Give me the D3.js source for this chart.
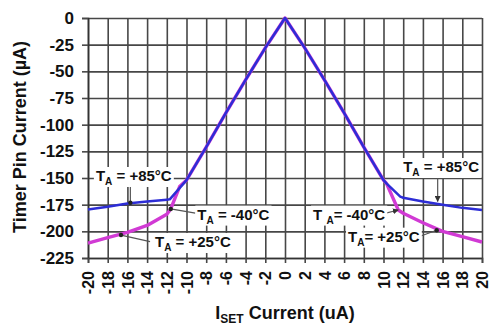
<!DOCTYPE html>
<html>
<head>
<meta charset="utf-8">
<script src="https://cdn.jsdelivr.net/npm/d3@7"></script>
<style>
  body { margin: 0; background: #fff; }
  svg { font-family: "Liberation Sans", Arial, sans-serif; font-weight: bold; }
</style>
</head>
<body>
<div class="chart"></div>
<script>
// I_SET current (uA) vs timer pin current (uA)
let iset85 = [-20, -18, -16, -14, -12, -11.7, -10, -8, -6, -4, -2, 0, 2, 4, 6, 8, 10, 10.3, 11.7, 12, 14, 16, 18, 20];
let pin85 = [-179.5, -177, -174, -172, -170.3, -170, -152, -121, -89, -58, -28, 0, -28, -58, -89, -121, -152, -155, -167.5, -168.5, -172, -175, -178, -180];

let iset25 = [-20, -18, -16, -14, -12, -11.6, -10.7, -10, -8, -6, -4, -2, 0, 2, 4, 6, 8, 10, 10.3, 11.5, 12, 14, 16, 18, 20];
let pin25 = [-211, -206, -201, -194.5, -184, -179, -158, -152, -121, -89, -58, -28, 0, -28, -58, -89, -121, -152, -155, -180, -183, -192, -200, -205, -210];

let xTicks = d3.range(-20, 21, 2);
let yTicks = d3.range(-225, 1, 25);

// annotations, in data units
let notes = [
  { pre: "T", sub: "A", post: " = +85°C", x: -19.2, y: -152.8, from: [-15.7, -155.6], to: [-15.7, -173.2], end: "dot" },
  { pre: "T", sub: "A", post: " = -40°C", x: -8.9, y: -189, from: [-9.1, -183], to: [-11.6, -179], end: "dot" },
  { pre: "T", sub: "A", post: " = +25°C", x: -13.2, y: -214.7, from: [-13.7, -209.7], to: [-16.65, -203.5], end: "dot" },
  { pre: "T", sub: "A", post: " = +85°C", x: 12, y: -144.4, from: [15.5, -150.5], to: [15.5, -172], end: "arrow" },
  { pre: "T ", sub: "A", post: "= -40°C", x: 2.85, y: -189, from: [9.95, -183.7], to: [11.5, -180], end: "arrow" },
  { pre: "T", sub: "A", post: "= +25°C", x: 6.4, y: -209.7, from: [13.5, -205.3], to: [15.4, -199], end: "dot" }
];

let margin = { top: 18, right: 8, bottom: 68, left: 88 },
  width = 490 - margin.left - margin.right,
  height = 326 - margin.top - margin.bottom;

let root = d3.select(".chart")
  .append("svg")
  .attr("width", width + margin.left + margin.right)
  .attr("height", height + margin.top + margin.bottom);

let svg = root.append("g")
  .attr("transform", "translate(" + margin.left + "," + margin.top + ")");

let x = d3.scaleLinear().domain([-20, 20]).range([0, width]);
let y = d3.scaleLinear().domain([-225, 0]).range([height, 0]);

root.append("defs").append("marker")
  .attr("id", "arr")
  .attr("viewBox", "0 0 10 10")
  .attr("refX", 9).attr("refY", 5)
  .attr("markerWidth", 5).attr("markerHeight", 5)
  .attr("orient", "auto")
  .append("path")
  .attr("d", "M0,0L10,5L0,10z")
  .attr("fill", "#333");

// grid
svg.append("g")
  .attr("class", "grid")
  .attr("transform", "translate(0," + height + ")")
  .call(d3.axisBottom(x).tickValues(xTicks).tickSize(-height).tickFormat(""));
svg.append("g")
  .attr("class", "grid")
  .call(d3.axisLeft(y).tickValues(yTicks).tickSize(-width).tickFormat(""));
svg.selectAll(".grid .domain").remove();
svg.selectAll(".grid line").attr("stroke", "#474747").attr("stroke-width", 1.6);

// axes, plain hyphen for negatives like the original
let fmt = function(d) { return String(d); };
let yAxis = svg.append("g")
  .call(d3.axisLeft(y).tickValues(yTicks).tickSize(6).tickPadding(8).tickFormat(fmt));
let xAxis = svg.append("g")
  .attr("transform", "translate(0," + height + ")")
  .call(d3.axisBottom(x).tickValues(xTicks).tickSize(5).tickPadding(8).tickFormat(fmt));

[xAxis, yAxis].forEach(function(a) {
  a.select(".domain").attr("stroke", "#333").attr("stroke-width", 1.6);
  a.selectAll(".tick line").attr("stroke", "#474747").attr("stroke-width", 1.6);
  a.selectAll("text").attr("fill", "#111").style("font-family", "Liberation Sans, Arial, sans-serif").style("font-weight", "bold");
});
yAxis.selectAll("text").style("font-size", "17px");
xAxis.selectAll("text")
  .style("font-size", "16px")
  .attr("transform", "rotate(-90)")
  .attr("text-anchor", "end")
  .attr("x", -13)
  .attr("y", 0)
  .attr("dy", "0.35em");

// curves
let line = d3.line()
  .x(function(d) { return x(d[0]); })
  .y(function(d) { return y(d[1]); });

svg.append("path")
  .datum(d3.zip(iset25, pin25))
  .attr("fill", "none")
  .attr("stroke", "#d13ad4")
  .attr("stroke-width", 3.4)
  .attr("stroke-linejoin", "round")
  .attr("d", line);

svg.append("path")
  .datum(d3.zip(iset85, pin85))
  .attr("fill", "none")
  .attr("stroke", "#2d2dd6")
  .attr("stroke-width", 2.5)
  .attr("stroke-linejoin", "round")
  .attr("d", line);

// annotations
notes.forEach(function(n) {
  let g = svg.append("g");
  let lead = g.append("line")
    .attr("x1", x(n.from[0])).attr("y1", y(n.from[1]))
    .attr("x2", x(n.to[0])).attr("y2", y(n.to[1]))
    .attr("stroke", "#555")
    .attr("stroke-width", 1.2);
  if (n.end == "arrow") {
    lead.attr("marker-end", "url(#arr)");
  } else {
    g.append("circle")
      .attr("cx", x(n.to[0])).attr("cy", y(n.to[1]))
      .attr("r", 2.2).attr("fill", "#222");
  }
  let t = g.append("text")
    .attr("x", x(n.x)).attr("y", y(n.y))
    .attr("fill", "#111")
    .style("font-size", "15px");
  t.append("tspan").text(n.pre);
  t.append("tspan").attr("dy", 4).style("font-size", "10px").text(n.sub);
  t.append("tspan").attr("dy", -4).text(n.post);
  let b = t.node().getBBox();
  g.insert("rect", "text")
    .attr("x", b.x - 2).attr("y", b.y)
    .attr("width", b.width + 4).attr("height", b.height)
    .attr("fill", "#fff");
});

// titles
let xt = root.append("text")
  .attr("x", margin.left + x(0))
  .attr("y", 319)
  .attr("text-anchor", "middle")
  .attr("fill", "#111")
  .style("font-size", "18px");
xt.append("tspan").text("I");
xt.append("tspan").attr("dy", 4).style("font-size", "12px").text("SET");
xt.append("tspan").attr("dy", -4).text(" Current (uA)");

root.append("text")
  .attr("transform", "translate(26,137) rotate(-90)")
  .attr("text-anchor", "middle")
  .attr("fill", "#111")
  .style("font-size", "18px")
  .text("Timer Pin Current (µA)");
</script>
</body>
</html>
